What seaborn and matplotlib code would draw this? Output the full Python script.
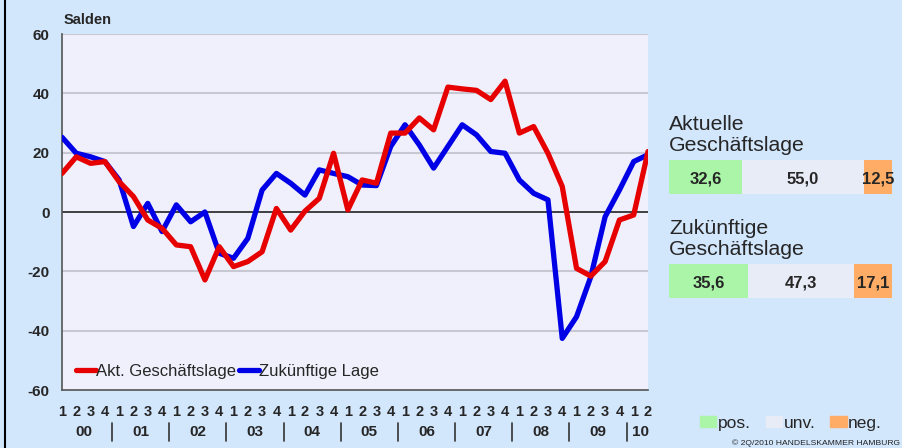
import numpy as np
import pandas as pd
import matplotlib
matplotlib.use('Agg')
import matplotlib.pyplot as plt
from matplotlib.lines import Line2D
from matplotlib.patches import Patch
import seaborn as sns

# ── Data ──────────────────────────────────────────────────────────────────────
years = ['00', '01', '02', '03', '04', '05', '06', '07', '08', '09', '10']
quarter_labels = ['1', '2', '3', '4'] * 10 + ['1', '2']

aktuell = [13.0, 18.6, 16.4, 17.0, 10.2, 5.2, -2.7, -5.5, -11.1, -11.7,
           -22.9, -11.7, -18.4, -16.7, -13.4, 1.2, -6.1, 0.3, 4.6, 19.8,
           0.7, 10.8, 9.7, 26.6, 26.6, 31.7, 27.7, 42.1, 41.5, 41.0,
           37.9, 44.1, 26.6, 28.8, 19.8, 8.6, -19.0, -21.6, -16.7, -2.7,
           -1.0, 20.4]
zukunft = [25.2, 19.8, 18.6, 17.0, 10.8, -4.9, 2.9, -6.6, 2.4, -3.3,
           0.0, -13.9, -15.6, -8.9, 7.4, 13.0, 9.7, 5.7, 14.2, 13.0,
           11.9, 9.1, 8.9, 22.1, 29.4, 22.6, 14.8, 22.1, 29.4, 26.0,
           20.4, 19.8, 10.8, 6.3, 4.1, -42.6, -35.3, -21.8, -1.6, 7.4,
           17.0, 19.3]
series_names = ['Akt. Geschäftslage', 'Zukünftige Lage']

panel_titles = ['Aktuelle\nGeschäftslage', 'Zukünftige\nGeschäftslage']
share_pos = [32.6, 35.6]
share_unv = [55.0, 47.3]
share_neg = [12.5, 17.1]
share_names = ['pos.', 'unv.', 'neg.']

# ── Style ─────────────────────────────────────────────────────────────────────
BG = '#D2E6FC'
PLOT_BG = '#F0F0FC'
RED = '#E60000'
BLUE = '#0000E6'
SHARE_COLORS = ['#ABF5A9', '#E8ECF7', '#FFAD66']

sns.set_style('white')
plt.rcParams['font.family'] = ['Liberation Sans', 'DejaVu Sans']

W, H = 902, 448
fig = plt.figure(figsize=(W / 100, H / 100), dpi=100, facecolor=BG)


def px_rect(x0, y0, x1, y1):
    return [x0 / W, 1 - y1 / H, (x1 - x0) / W, (y1 - y0) / H]


# ── Line chart ────────────────────────────────────────────────────────────────
ax = fig.add_axes(px_rect(62, 34, 648, 390))
ax.set_facecolor(PLOT_BG)

n = len(aktuell)
df = pd.DataFrame({
    'idx': list(range(n)) * 2,
    'value': aktuell + zukunft,
    'series': [series_names[0]] * n + [series_names[1]] * n,
})

for y in [-40, -20, 20, 40, 60]:
    ax.axhline(y, color='#C8C8D2', lw=1.5, zorder=0)
ax.axhline(0, color='#222222', lw=1.2, zorder=1)

sns.lineplot(data=df, x='idx', y='value', hue='series',
             palette={series_names[0]: RED, series_names[1]: BLUE},
             hue_order=[series_names[1], series_names[0]],
             lw=3.8, ax=ax, legend=False, zorder=3)

ax.set_xlim(0, n - 1)
ax.set_ylim(-60, 60)
ax.set_yticks(range(-60, 61, 20))
ax.set_yticklabels([str(v) for v in range(-60, 61, 20)],
                   fontweight='bold', fontsize=11)
ax.set_xticks(range(n))
ax.set_xticklabels(quarter_labels, fontweight='bold', fontsize=10.5)
ax.tick_params(axis='y', length=0, pad=9)
ax.tick_params(axis='x', direction='out', length=5, width=1, color='#333333', pad=6)
ax.set_xlabel('')
ax.set_ylabel('')
for s in ['top', 'right']:
    ax.spines[s].set_visible(False)
ax.spines['left'].set_color('#555555')
ax.spines['bottom'].set_color('#555555')
ax.spines['left'].set_linewidth(1.2)
ax.spines['bottom'].set_linewidth(1.2)

# year labels and separators below the quarter numbers
trans = ax.get_xaxis_transform()
for i, yr in enumerate(years):
    center = 4 * i + 1.5 if i < len(years) - 1 else 40.5
    ax.text(center, -0.118, yr, transform=trans, ha='center', va='center',
            fontweight='bold', fontsize=11)
for i in range(1, len(years)):
    xs = 4 * i - 0.5
    ax.add_line(Line2D([xs, xs], [-0.093, -0.143], transform=trans,
                       color='#333333', lw=1.2, clip_on=False))

handles = [Line2D([0], [0], color=RED, lw=3.8),
           Line2D([0], [0], color=BLUE, lw=3.8)]
ax.legend(handles, series_names, loc='lower left', bbox_to_anchor=(0.012, 0.012),
          frameon=False, fontsize=12, handlelength=1.2, handletextpad=0.0,
          columnspacing=0.2, ncol=2, borderpad=0, borderaxespad=0.4)

fig.text(64 / W, 1 - 20 / H, 'Salden', fontweight='bold', fontsize=10.5,
         ha='left', va='center')

# ── Share panel ───────────────────────────────────────────────────────────────
ax2 = fig.add_axes(px_rect(669, 160, 892, 298))
ax2.set_facecolor('none')
cum_unv = [p + u for p, u in zip(share_pos, share_unv)]
cum_neg = [p + u + g for p, u, g in zip(share_pos, share_unv, share_neg)]
rows = [0, 1]
bar_h = 0.327
ax2.barh(rows, cum_neg, height=bar_h, color=SHARE_COLORS[2], lw=0)
ax2.barh(rows, cum_unv, height=bar_h, color=SHARE_COLORS[1], lw=0)
ax2.barh(rows, share_pos, height=bar_h, color=SHARE_COLORS[0], lw=0)
ax2.set_xlim(0, 100)
ax2.set_ylim(1 + 0.1635, -0.1635)
ax2.axis('off')

for r in rows:
    starts = [0, share_pos[r], cum_unv[r]]
    vals = [share_pos[r], share_unv[r], share_neg[r]]
    for s, v in zip(starts, vals):
        ax2.text(s + v / 2, r + 0.02, f'{v:.1f}'.replace('.', ','),
                 ha='center', va='center', fontweight='bold', fontsize=12)
    ax2.text(0, r - 0.215, panel_titles[r], ha='left', va='bottom',
             fontsize=15.3, linespacing=1.14)

leg_handles = [Patch(color=c) for c in SHARE_COLORS]
fig.legend(leg_handles, share_names, loc='center left',
           bbox_to_anchor=(700 / W, 1 - 423 / H), ncol=3, frameon=False,
           fontsize=12.5, handlelength=0.95, handleheight=0.65,
           handletextpad=0.08, columnspacing=0.85, borderpad=0, borderaxespad=0)

fig.text(900 / W, 1 - 443 / H, '© 2Q/2010 HANDELSKAMMER HAMBURG',
         fontsize=6.1, ha='right', va='center', color='#222222')

# left frame line
fig.add_artist(Line2D([5 / W, 5 / W], [0, 1], transform=fig.transFigure,
                      color='black', lw=1.5))

fig.savefig('out.png', dpi=100, facecolor=BG)
